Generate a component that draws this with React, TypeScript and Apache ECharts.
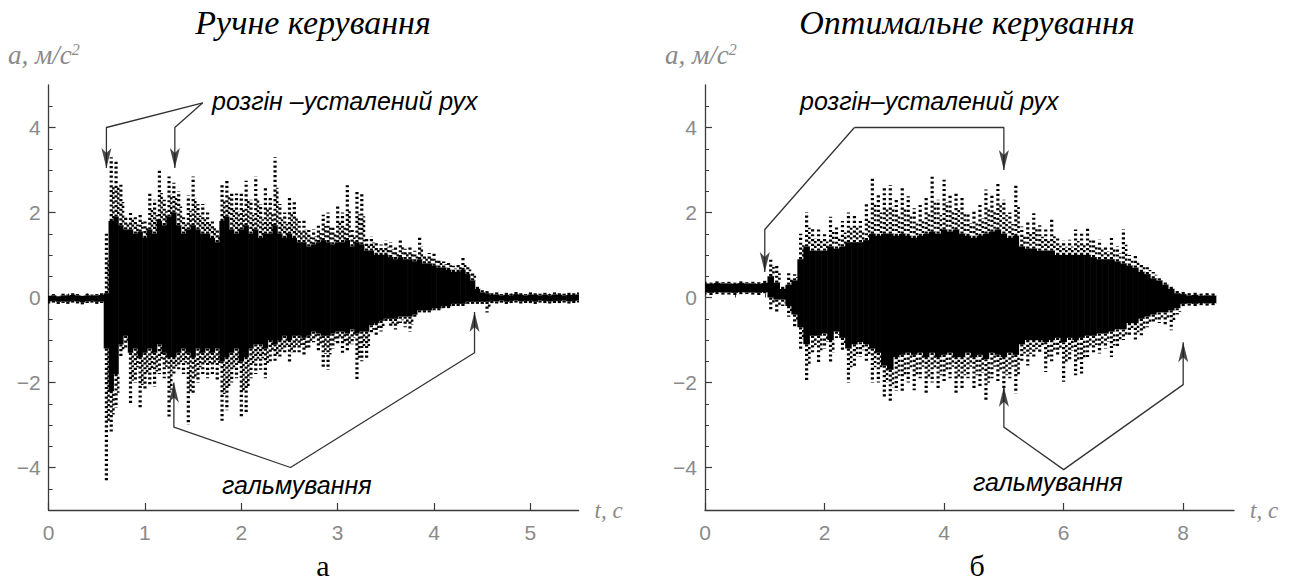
import React, { useEffect, useRef } from "react";
import * as echarts from "echarts";

// ---------- data ----------
// Left panel ("Ручне керування"): sampling step 0.05 s, t = 0 … 5.5 s
const leftStep = 0.05;
const leftHi = [
  0.06, 0.08, 0.05, 0.09, 0.07, 0.1, 0.08, 0.06, 0.09, 0.07, 0.08, 0.1,
  1.5, 3.3, 3.2, 2.7, 1.9, 2.05, 1.9, 1.95, 1.85, 2.5, 2.3, 3.0, 2.3, 2.85, 2.7, 2.5, 1.9, 2.4,
  2.85, 2.2, 2.2, 2.0, 1.85, 1.6, 2.7, 2.8, 2.5, 2.45, 2.5, 2.75, 2.3, 2.85, 2.2, 2.6, 2.4, 3.3,
  2.2, 2.0, 2.35, 2.3, 1.8, 1.85, 1.6, 1.6, 1.7, 1.95, 2.0, 1.7, 2.15, 2.0, 2.65, 1.6, 2.5, 2.45,
  1.4, 1.45, 1.3, 1.25, 1.35, 1.3, 1.2, 1.4, 1.15, 1.2, 1.1, 1.45, 1.0, 1.05, 1.05, 0.9, 0.85,
  0.85, 0.75, 0.8, 0.95, 0.75, 0.6, 0.3, 0.2, 0.15,
  0.1, 0.12, 0.08, 0.11, 0.09, 0.13, 0.1, 0.08, 0.12, 0.1, 0.09, 0.11, 0.08, 0.12, 0.1, 0.09, 0.11, 0.1, 0.12,
];
const leftLo = [
  -0.14, -0.12, -0.16, -0.13, -0.15, -0.12, -0.14, -0.17, -0.13, -0.12, -0.15, -0.13,
  -4.3, -3.2, -2.6, -1.4, -1.2, -2.5, -2.0, -2.6, -2.2, -2.1, -2.1, -1.8, -1.9, -2.8, -1.8, -1.7, -1.8, -3.0,
  -2.25, -2.0, -1.8, -1.9, -1.8, -1.95, -2.9, -2.65, -2.0, -1.9, -2.85, -2.7, -1.9, -1.8, -1.7, -1.9, -1.5, -1.55,
  -1.4, -1.3, -1.55, -1.3, -1.3, -1.4, -1.2, -1.05, -1.3, -1.67, -1.7, -1.2, -1.1, -1.3, -1.3, -1.1, -1.95, -1.5,
  -1.45, -0.85, -0.9, -0.8, -0.6, -0.7, -0.75, -0.6, -0.7, -0.8, -0.5, -0.35, -0.4, -0.35, -0.3, -0.35, -0.25,
  -0.25, -0.2, -0.2, -0.2, -0.15, -0.15, -0.15, -0.2, -0.35,
  -0.14, -0.15, -0.13, -0.16, -0.14, -0.12, -0.15, -0.13, -0.14, -0.16, -0.12, -0.14, -0.15, -0.13, -0.14, -0.12, -0.15, -0.13, -0.12,
];
const leftCoreHi = [
  0.04, 0.05, 0.03, 0.05, 0.04, 0.06, 0.05, 0.04, 0.05, 0.04, 0.05, 0.06,
  0.1, 1.8, 1.9, 1.7, 1.6, 1.6, 1.5, 1.55, 1.4, 1.6, 1.5, 1.8, 1.7, 1.9, 2.0, 1.7, 1.5, 1.6,
  1.7, 1.6, 1.5, 1.5, 1.4, 1.3, 1.8, 1.9, 1.6, 1.5, 1.6, 1.7, 1.5, 1.6, 1.4, 1.5, 1.5, 1.7,
  1.5, 1.4, 1.5, 1.4, 1.3, 1.3, 1.2, 1.25, 1.3, 1.35, 1.3, 1.25, 1.3, 1.3, 1.35, 1.2, 1.3, 1.25,
  1.1, 1.1, 1.0, 1.0, 1.0, 0.95, 0.9, 0.95, 0.9, 0.9, 0.85, 0.9, 0.8, 0.8, 0.75, 0.7, 0.7,
  0.65, 0.6, 0.6, 0.65, 0.55, 0.4, 0.2, 0.12, 0.1,
  0.06, 0.07, 0.05, 0.06, 0.05, 0.08, 0.06, 0.05, 0.07, 0.06, 0.05, 0.07, 0.05, 0.07, 0.06, 0.05, 0.06, 0.06, 0.07,
];
const leftCoreLo = [
  -0.09, -0.08, -0.1, -0.09, -0.1, -0.08, -0.09, -0.11, -0.09, -0.08, -0.1, -0.09,
  -1.2, -2.2, -1.8, -1.1, -0.9, -1.3, -1.2, -1.4, -1.3, -1.2, -1.3, -1.1, -1.3, -1.4, -1.4, -1.3, -1.2, -1.3,
  -1.4, -1.2, -1.3, -1.2, -1.3, -1.2, -1.5, -1.4, -1.3, -1.2, -1.5, -1.4, -1.2, -1.1, -1.1, -1.2, -1.0, -1.1,
  -1.0, -0.9, -1.0, -0.9, -0.9, -0.95, -0.9, -0.8, -0.85, -0.9, -0.9, -0.85, -0.8, -0.8, -0.85, -0.75, -0.85, -0.8,
  -0.8, -0.65, -0.6, -0.55, -0.5, -0.5, -0.5, -0.45, -0.45, -0.45, -0.4, -0.3, -0.3, -0.3, -0.25, -0.25, -0.2,
  -0.2, -0.15, -0.15, -0.15, -0.1, -0.1, -0.1, -0.1, -0.1,
  -0.08, -0.09, -0.07, -0.1, -0.08, -0.07, -0.09, -0.08, -0.08, -0.1, -0.07, -0.08, -0.09, -0.08, -0.08, -0.07, -0.09, -0.08, -0.07,
];

// Right panel ("Оптимальне керування"): sampling step 0.1 s, t = 0 … 8.5 s
const rightStep = 0.1;
const rightHi = [
  0.37, 0.35, 0.38, 0.36, 0.37, 0.35, 0.38, 0.36, 0.37, 0.36, 0.4,
  0.9, 0.75, 0.3, 0.57, 0.55, 1.5, 2.0, 1.65, 1.6, 1.5, 1.9, 1.65, 1.8, 2.0, 1.95, 1.8, 2.2, 2.85, 2.45,
  2.6, 2.65, 2.3, 2.6, 2.38, 2.1, 2.18, 2.4, 2.85, 2.3, 2.77, 2.4, 2.5, 2.34, 2.0, 2.02, 2.2, 2.54, 2.4, 2.73,
  2.3, 2.0, 2.69, 1.67, 1.8, 1.98, 1.7, 1.6, 1.83, 1.4, 1.35, 1.36, 1.6, 1.5, 1.63, 1.4, 1.36, 1.24, 1.4, 1.2,
  1.6, 1.0, 1.0, 0.8, 0.73, 0.6, 0.49, 0.4, 0.26, 0.18, 0.14, 0.12, 0.13, 0.1, 0.12, 0.1,
];
const rightLo = [
  0.06, 0.05, 0.08, 0.04, 0.07, 0.06, 0.05, 0.08, 0.06, 0.05, 0.1,
  -0.3, -0.35, -0.2, -0.45, -0.7, -1.25, -1.95, -1.3, -1.55, -1.2, -1.55, -0.95, -1.25, -2.0, -1.65, -1.4, -1.55, -2.0, -2.0,
  -2.35, -2.45, -2.2, -2.25, -2.0, -2.18, -1.9, -2.3, -2.0, -2.18, -2.0, -1.9, -2.26, -2.18, -1.9, -2.18, -2.1, -2.46, -1.9, -2.02,
  -2.18, -1.9, -2.26, -1.5, -1.6, -1.4, -1.3, -1.75, -1.5, -1.4, -1.98, -1.5, -1.83, -1.79, -1.4, -1.3, -1.32, -1.2, -1.4, -1.2,
  -1.0, -0.9, -1.0, -0.92, -0.7, -0.61, -0.6, -0.65, -0.77, -0.4, -0.25, -0.2, -0.22, -0.18, -0.2, -0.18,
];
const rightCoreHi = [
  0.33, 0.32, 0.34, 0.33, 0.33, 0.32, 0.34, 0.33, 0.33, 0.32, 0.34,
  0.5, 0.35, 0.2, 0.3, 0.4, 0.9, 1.2, 1.1, 1.1, 1.1, 1.2, 1.15, 1.2, 1.3, 1.3, 1.3, 1.35, 1.5, 1.45,
  1.5, 1.5, 1.45, 1.5, 1.45, 1.4, 1.45, 1.5, 1.55, 1.5, 1.6, 1.55, 1.6, 1.5, 1.45, 1.4, 1.45, 1.5, 1.55, 1.6,
  1.5, 1.4, 1.45, 1.2, 1.15, 1.15, 1.1, 1.1, 1.1, 1.0, 1.0, 1.0, 1.0, 1.0, 1.0, 0.95, 0.9, 0.9, 0.9, 0.85,
  0.8, 0.75, 0.7, 0.6, 0.55, 0.45, 0.4, 0.3, 0.2, 0.1, 0.08, 0.05, 0.06, 0.04, 0.05, 0.04,
];
const rightCoreLo = [
  0.12, 0.11, 0.13, 0.12, 0.12, 0.11, 0.13, 0.12, 0.12, 0.11, 0.13,
  0.0, -0.05, -0.05, -0.2, -0.4, -0.7, -1.1, -0.9, -0.9, -0.85, -1.0, -0.8, -0.95, -1.2, -1.1, -1.05, -1.1, -1.2, -1.3,
  -1.6, -1.7, -1.4, -1.35, -1.3, -1.35, -1.3, -1.4, -1.3, -1.4, -1.35, -1.3, -1.4, -1.4, -1.3, -1.4, -1.35, -1.45, -1.3, -1.35,
  -1.4, -1.3, -1.35, -1.1, -1.0, -1.0, -1.0, -1.05, -1.0, -0.95, -1.05, -0.95, -1.0, -0.95, -0.9, -0.9, -0.85, -0.85, -0.8, -0.75,
  -0.75, -0.6, -0.6, -0.5, -0.45, -0.4, -0.35, -0.35, -0.3, -0.25, -0.15, -0.14, -0.15, -0.13, -0.14, -0.13,
];

// axis ticks
const leftXTicks = [0, 1, 2, 3, 4, 5];
const rightXTicks = [0, 2, 4, 6, 8];
const yTicks = [-4, -2, 0, 2, 4];

// annotation arrows (data coordinates)
const leftTopArrows = [
  [[1.6, 4.58], [0.6, 4.0], [0.6, 3.05]],
  [[1.6, 4.58], [1.31, 4.0], [1.31, 3.05]],
];
const leftBottomArrow = [[1.3, -2.0], [1.3, -3.05], [2.51, -4.0], [4.42, -1.3], [4.42, -0.34]];
const rightTopArrows = [
  [[2.5, 4.0], [5.0, 4.0], [5.0, 3.0]],
  [[2.5, 4.0], [1.0, 1.6], [1.0, 0.6]],
];
const rightBottomArrow = [[5.0, -2.1], [5.0, -3.05], [6.0, -4.05], [8.0, -2.05], [8.0, -1.05]];

// ---------- helpers ----------
const range = (a: number, b: number, s: number) => {
  const out: number[] = [];
  for (let v = a; v <= b + 1e-9; v += s) out.push(Math.round(v * 1000) / 1000);
  return out;
};

function buildItems(step: number, hi: number[], lo: number[], cHi: number[], cLo: number[]) {
  return hi.map((h, i) => [Math.round(i * step * 1000) / 1000, lo[i], h, cLo[i], cHi[i]]);
}

const DOT = { stroke: "#000", lineWidth: 3.2, lineDash: [2.2, 2.6] };

function makeRender(step: number) {
  return (params: any, api: any) => {
    const t = api.value(0);
    const lo = api.value(1);
    const hi = api.value(2);
    const cLo = api.value(3);
    const cHi = api.value(4);
    const pHi = api.coord([t, hi]);
    const pLo = api.coord([t, lo]);
    const pCHi = api.coord([t, cHi]);
    const pCLo = api.coord([t, cLo]);
    const w = api.size([step, 0])[0];
    const x = pHi[0];
    const children: any[] = [
      {
        type: "rect",
        shape: { x: x - w / 2 - 0.3, y: pCHi[1], width: w + 0.6, height: Math.max(1.5, pCLo[1] - pCHi[1]) },
        style: { fill: "#000" },
      },
    ];
    if (pHi[1] < pCHi[1] - 1) {
      const mid = pCHi[1] - (pCHi[1] - pHi[1]) * 0.55;
      children.push({ type: "line", shape: { x1: x, y1: pCHi[1], x2: x, y2: pHi[1] }, style: DOT });
      children.push({
        type: "line",
        shape: { x1: x + w * 0.45, y1: pCHi[1], x2: x + w * 0.45, y2: mid },
        style: { ...DOT, lineWidth: 2.6, lineDashOffset: 2.4 },
      });
    }
    if (pLo[1] > pCLo[1] + 1) {
      const mid = pCLo[1] + (pLo[1] - pCLo[1]) * 0.55;
      children.push({ type: "line", shape: { x1: x, y1: pCLo[1], x2: x, y2: pLo[1] }, style: DOT });
      children.push({
        type: "line",
        shape: { x1: x + w * 0.45, y1: pCLo[1], x2: x + w * 0.45, y2: mid },
        style: { ...DOT, lineWidth: 2.6, lineDashOffset: 2.4 },
      });
    }
    return { type: "group", children };
  };
}

const AXIS_COLOR = "#3a3a3a";
const LABEL_COLOR = "#8a8a8a";
const SANS = "'Liberation Sans', Arial, sans-serif";
const SERIF = "'Liberation Serif', 'Times New Roman', serif";

function xAxes(gridIndex: number, max: number, ticks: number[], minor: number[]) {
  return [
    {
      type: "value",
      gridIndex,
      min: 0,
      max,
      position: "bottom",
      splitLine: { show: false },
      axisLine: { show: true, onZero: false, lineStyle: { color: AXIS_COLOR, width: 1.3 } },
      axisTick: { show: true, inside: true, length: 7, customValues: ticks, lineStyle: { color: AXIS_COLOR, width: 1.2 } },
      axisLabel: { show: true, customValues: ticks, color: LABEL_COLOR, fontSize: 21, fontFamily: SANS, margin: 12 },
      name: "t, c",
      nameLocation: "end",
      nameGap: 16,
      nameTextStyle: { fontFamily: SERIF, fontStyle: "italic", fontSize: 23, color: LABEL_COLOR, verticalAlign: "middle" },
    },
    {
      type: "value",
      gridIndex,
      min: 0,
      max,
      position: "bottom",
      splitLine: { show: false },
      axisLine: { show: false },
      axisTick: { show: true, inside: true, length: 4, customValues: minor, lineStyle: { color: AXIS_COLOR, width: 1 } },
      axisLabel: { show: false },
    },
  ];
}

function yAxes(gridIndex: number) {
  return [
    {
      type: "value",
      gridIndex,
      min: -5,
      max: 5,
      position: "left",
      splitLine: { show: false },
      axisLine: { show: true, onZero: false, lineStyle: { color: AXIS_COLOR, width: 1.3 } },
      axisTick: { show: true, inside: true, length: 7, customValues: yTicks, lineStyle: { color: AXIS_COLOR, width: 1.2 } },
      axisLabel: {
        show: true,
        customValues: yTicks,
        color: LABEL_COLOR,
        fontSize: 21,
        fontFamily: SANS,
        margin: 8,
        formatter: (v: number) => String(v).replace("-", "\u2212"),
      },
    },
    {
      type: "value",
      gridIndex,
      min: -5,
      max: 5,
      position: "left",
      splitLine: { show: false },
      axisLine: { show: false },
      axisTick: { show: true, inside: true, length: 4, customValues: range(-4.5, 4.5, 0.5), lineStyle: { color: AXIS_COLOR, width: 1 } },
      axisLabel: { show: false },
    },
  ];
}

function arrowLine(points: number[][], axisIndex: number) {
  return {
    type: "line",
    xAxisIndex: axisIndex,
    yAxisIndex: axisIndex,
    data: points,
    symbol: "none",
    lineStyle: { color: "#333", width: 1.3 },
    silent: true,
    z: 5,
  };
}

const DOWN_HEAD = "path://M0,0 L5,5 L10,0 L5,20 Z";
const UP_HEAD = "path://M5,0 L10,20 L5,15 L0,20 Z";

function arrowHeads(points: number[][], dir: "up" | "down", axisIndex: number) {
  return {
    type: "scatter",
    xAxisIndex: axisIndex,
    yAxisIndex: axisIndex,
    data: points,
    symbol: dir === "down" ? DOWN_HEAD : UP_HEAD,
    symbolSize: [10, 20],
    symbolKeepAspect: false,
    symbolOffset: [0, dir === "down" ? "-50%" : "50%"],
    itemStyle: { color: "#1a1a1a" },
    silent: true,
    z: 6,
  };
}

export default function App() {
  const ref = useRef<HTMLDivElement>(null);

  useEffect(() => {
    if (!ref.current) return;
    const chart = echarts.init(ref.current, undefined, { renderer: "svg" });

    const leftItems = buildItems(leftStep, leftHi, leftLo, leftCoreHi, leftCoreLo);
    const rightItems = buildItems(rightStep, rightHi, rightLo, rightCoreHi, rightCoreLo);

    const ylabel = (x: number) => ({
      type: "text",
      left: x,
      top: 41,
      style: {
        text: "{a|a, м/с}{s|2}",
        rich: {
          a: { fontFamily: SERIF, fontStyle: "italic", fontSize: 27, fill: LABEL_COLOR, color: LABEL_COLOR },
          s: { fontFamily: SERIF, fontStyle: "italic", fontSize: 16, fill: LABEL_COLOR, color: LABEL_COLOR, verticalAlign: "top", padding: [0, 0, 12, 0] },
        },
      },
    });

    const text = (t: string, x: number, y: number, font: string, size: number, italic: boolean, color = "#000", align = "left") => ({
      type: "text",
      x,
      y,
      style: {
        text: t,
        fontFamily: font,
        fontSize: size,
        fontStyle: italic ? "italic" : "normal",
        fill: color,
        textAlign: align,
        textVerticalAlign: "middle",
      },
    });

    chart.setOption({
      animation: false,
      backgroundColor: "#ffffff",
      grid: [
        { left: 48.6, top: 85, width: 530, height: 425, containLabel: false },
        { left: 705, top: 85, width: 529, height: 425, containLabel: false },
      ],
      xAxis: [
        ...xAxes(0, 5.5, leftXTicks, range(0, 5.4, 0.2)),
        ...xAxes(1, 8.85, rightXTicks, range(0, 8.5, 0.5)),
      ],
      yAxis: [...yAxes(0), ...yAxes(1)],
      series: [
        {
          type: "custom",
          xAxisIndex: 0,
          yAxisIndex: 0,
          renderItem: makeRender(leftStep),
          data: leftItems,
          clip: true,
          silent: true,
        },
        {
          type: "custom",
          xAxisIndex: 2,
          yAxisIndex: 2,
          renderItem: makeRender(rightStep),
          data: rightItems,
          clip: true,
          silent: true,
        },
        ...leftTopArrows.map((p) => arrowLine(p, 0)),
        arrowHeads(leftTopArrows.map((p) => p[p.length - 1]), "down", 0),
        arrowLine(leftBottomArrow, 0),
        arrowHeads([leftBottomArrow[0], leftBottomArrow[leftBottomArrow.length - 1]], "up", 0),
        ...rightTopArrows.map((p) => arrowLine(p, 2)),
        arrowHeads(rightTopArrows.map((p) => p[p.length - 1]), "down", 2),
        arrowLine(rightBottomArrow, 2),
        arrowHeads([rightBottomArrow[0], rightBottomArrow[rightBottomArrow.length - 1]], "up", 2),
      ],
      graphic: [
        text("Ручне керування", 313, 22, SERIF, 34, true, "#000", "center"),
        text("Оптимальне керування", 967, 22, SERIF, 34, true, "#000", "center"),
        ylabel(8),
        ylabel(665),
        text("розгін –усталений рух", 212, 101, SANS, 25, true),
        text("розгін–усталений рух", 800, 101, SANS, 25, true),
        text("гальмування", 222, 485, SANS, 25, true),
        text("гальмування", 973, 482, SANS, 25, true),
        text("а", 323, 565, SERIF, 30, false, "#000", "center"),
        text("б", 977, 565, SERIF, 30, false, "#000", "center"),
      ],
    });

    return () => chart.dispose();
  }, []);

  return (
    <div
      ref={ref}
      style={{ position: "fixed", left: 0, top: 0, width: 1293, height: 584, background: "#fff" }}
    />
  );
}
